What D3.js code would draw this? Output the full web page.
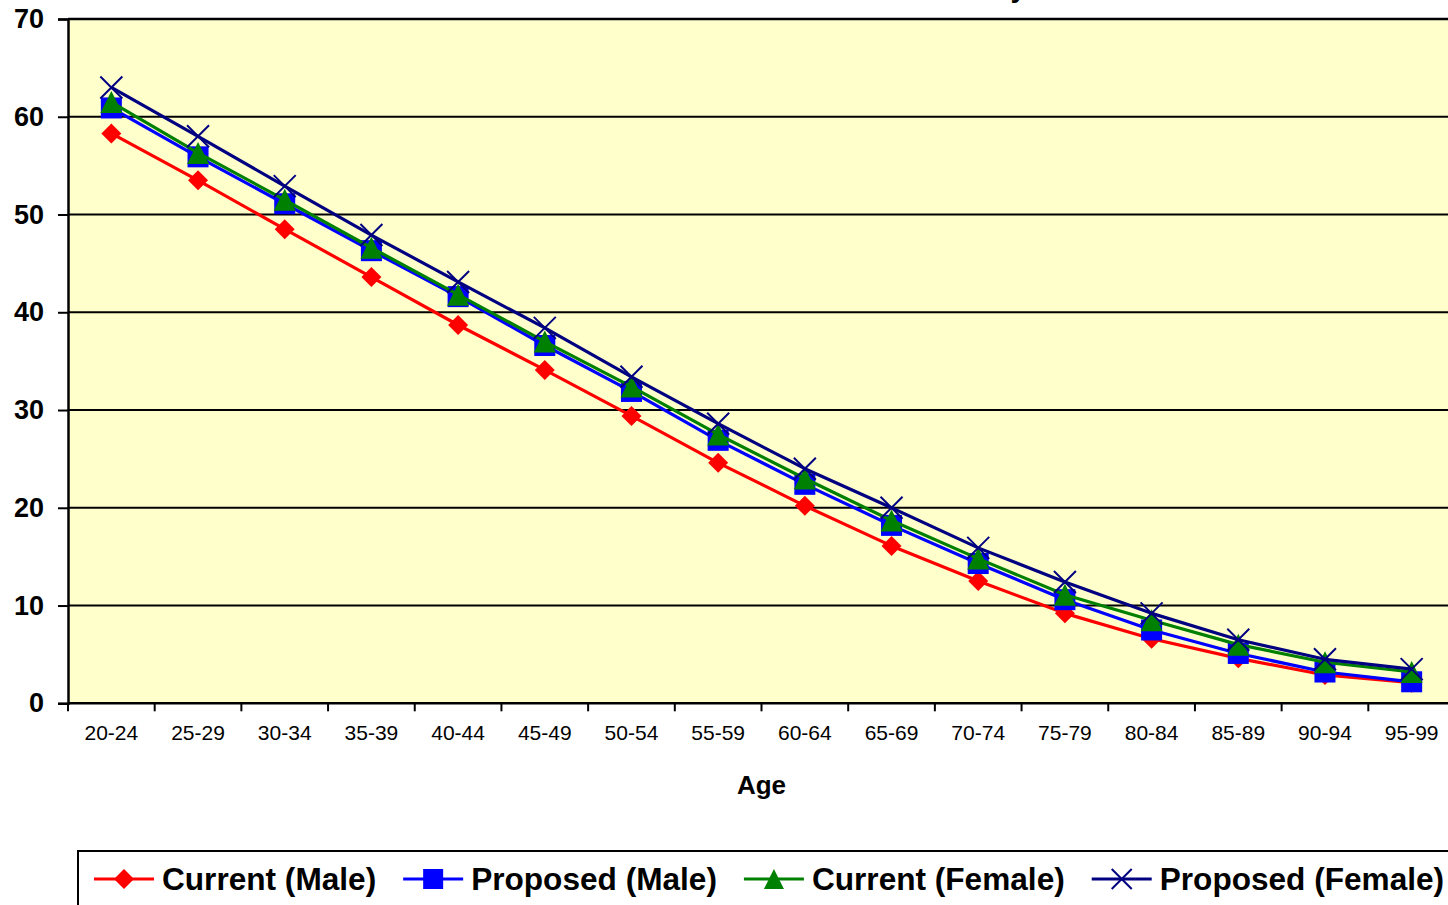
<!DOCTYPE html>
<html>
<head>
<meta charset="utf-8">
<script src="https://cdn.jsdelivr.net/npm/d3@7"></script>
<style>
  html, body { margin: 0; padding: 0; background: #ffffff; }
  svg { display: block; }
  text { font-family: Arial, "Liberation Sans", sans-serif; }
</style>
</head>
<body>
<svg id="chart" width="1448" height="905"></svg>
<script>
// Age groups along the horizontal axis
const ageGroups = ["20-24","25-29","30-34","35-39","40-44","45-49","50-54","55-59",
                   "60-64","65-69","70-74","75-79","80-84","85-89","90-94","95-99"];

// Remaining life expectancy (years) for each series
const currentMale    = [58.3, 53.5, 48.5, 43.6, 38.7, 34.1, 29.4, 24.6, 20.2, 16.1, 12.5, 9.2, 6.6, 4.6, 2.9, 2.1];
const proposedMale   = [60.9, 55.9, 51.1, 46.3, 41.6, 36.6, 31.9, 26.9, 22.4, 18.2, 14.3, 10.6, 7.5, 5.1, 3.2, 2.2];
const currentFemale  = [61.5, 56.3, 51.5, 46.6, 41.8, 37.0, 32.4, 27.5, 23.0, 18.7, 14.8, 11.1, 8.5, 6.0, 4.2, 3.2];
const proposedFemale = [63.0, 58.0, 52.9, 47.9, 43.1, 38.4, 33.4, 28.6, 24.0, 20.0, 15.9, 12.4, 9.2, 6.5, 4.5, 3.5];

const seriesNames = ["Current (Male)", "Proposed (Male)", "Current (Female)", "Proposed (Female)"];
const yTicks = [0, 10, 20, 30, 40, 50, 60, 70];

const series = [
  { name: seriesNames[0], values: currentMale,    color: "#ff0000", marker: "diamond" },
  { name: seriesNames[1], values: proposedMale,   color: "#0000ff", marker: "square" },
  { name: seriesNames[2], values: currentFemale,  color: "#008000", marker: "triangle" },
  { name: seriesNames[3], values: proposedFemale, color: "#000080", marker: "cross" }
];

const svg = d3.select("#chart");

const plot = { left: 68, right: 1455, top: 19, bottom: 703.3 };

const x = d3.scaleBand().domain(ageGroups).range([plot.left, plot.right]).padding(0);
const y = d3.scaleLinear().domain([0, 70]).range([plot.bottom, plot.top]);
const cx = d => x(d) + x.bandwidth() / 2;

// Chart title (sits above the top edge)
svg.append("text")
  .attr("x", 1026).attr("y", -3)
  .attr("text-anchor", "end")
  .attr("font-size", 28).attr("font-weight", "bold")
  .text("Life Table Summary");

// Plot background
svg.append("rect")
  .attr("x", plot.left).attr("y", plot.top)
  .attr("width", plot.right - plot.left).attr("height", plot.bottom - plot.top)
  .attr("fill", "#ffffcc");

// Horizontal gridlines
svg.append("g").selectAll("line")
  .data(yTicks.filter(t => t > 0))
  .join("line")
  .attr("x1", plot.left).attr("x2", plot.right)
  .attr("y1", d => y(d)).attr("y2", d => y(d))
  .attr("stroke", "#000").attr("stroke-width", d => d === 70 ? 2.5 : 2);

// Y axis
const yAxis = svg.append("g")
  .attr("transform", `translate(${plot.left},0)`)
  .call(d3.axisLeft(y).tickValues(yTicks).tickSize(10).tickPadding(14));
yAxis.select(".domain").attr("stroke", "#000").attr("stroke-width", 2.5);
yAxis.selectAll(".tick line").attr("stroke", "#000").attr("stroke-width", 2);
yAxis.selectAll(".tick text")
  .attr("font-size", 27).attr("font-weight", "bold")
  .attr("font-family", "Arial, 'Liberation Sans', sans-serif")
  .attr("fill", "#000");

// X axis: category labels centred in each band, ticks on band boundaries
const xAxis = svg.append("g")
  .attr("transform", `translate(0,${plot.bottom})`)
  .call(d3.axisBottom(x).tickSize(0).tickPadding(24));
xAxis.select(".domain").remove();
xAxis.selectAll(".tick text")
  .attr("font-size", 21)
  .attr("font-family", "Arial, 'Liberation Sans', sans-serif")
  .attr("fill", "#000")
  .attr("dy", "0.6em");

svg.append("line")
  .attr("x1", plot.left).attr("x2", plot.right)
  .attr("y1", plot.bottom).attr("y2", plot.bottom)
  .attr("stroke", "#000").attr("stroke-width", 2.5);

const bandEdges = ageGroups.map(d => x(d)).concat([x(ageGroups[ageGroups.length - 1]) + x.bandwidth()]);
svg.append("g").selectAll("line")
  .data(bandEdges)
  .join("line")
  .attr("x1", d => d).attr("x2", d => d)
  .attr("y1", plot.bottom).attr("y2", plot.bottom + 8)
  .attr("stroke", "#000").attr("stroke-width", 2);

// X axis title
svg.append("text")
  .attr("x", (plot.left + plot.right) / 2).attr("y", 794)
  .attr("text-anchor", "middle")
  .attr("font-size", 26).attr("font-weight", "bold")
  .text("Age");

// Marker drawing
function drawMarker(g, type, color, size) {
  const h = size / 2;
  if (type === "diamond") {
    g.append("path").attr("d", `M0,${-h}L${h},0L0,${h}L${-h},0Z`).attr("fill", color);
  } else if (type === "square") {
    g.append("rect").attr("x", -h).attr("y", -h).attr("width", size).attr("height", size).attr("fill", color);
  } else if (type === "triangle") {
    g.append("path").attr("d", `M0,${-h}L${h},${h}L${-h},${h}Z`).attr("fill", color);
  } else if (type === "cross") {
    g.append("path").attr("d", `M${-h},${-h}L${h},${h}M${-h},${h}L${h},${-h}`)
      .attr("stroke", color).attr("stroke-width", 2).attr("fill", "none");
  }
}
const markerSize = { diamond: 20, square: 21, triangle: 22, cross: 22 };

const line = d3.line().x((d, i) => cx(ageGroups[i])).y(d => y(d));

series.forEach(s => {
  const g = svg.append("g");
  g.append("path")
    .datum(s.values)
    .attr("d", line)
    .attr("fill", "none")
    .attr("stroke", s.color)
    .attr("stroke-width", 3.2)
    .attr("stroke-linejoin", "round");
  s.values.forEach((v, i) => {
    const mg = g.append("g").attr("transform", `translate(${cx(ageGroups[i])},${y(v)})`);
    drawMarker(mg, s.marker, s.color, markerSize[s.marker]);
  });
});

// Legend
const legend = svg.append("g");
legend.append("rect")
  .attr("x", 78).attr("y", 851)
  .attr("width", 1420).attr("height", 120)
  .attr("fill", "#fff").attr("stroke", "#000").attr("stroke-width", 2);

let lx = 94;
const ly = 879;
series.forEach(s => {
  legend.append("line")
    .attr("x1", lx).attr("x2", lx + 60)
    .attr("y1", ly).attr("y2", ly)
    .attr("stroke", s.color).attr("stroke-width", 3.2);
  const mg = legend.append("g").attr("transform", `translate(${lx + 30},${ly})`);
  drawMarker(mg, s.marker, s.color, 20);
  const t = legend.append("text")
    .attr("x", lx + 68).attr("y", ly + 11)
    .attr("font-size", 31.6).attr("font-weight", "bold")
    .text(s.name);
  lx = lx + 68 + t.node().getComputedTextLength() + 27;
});
</script>
</body>
</html>
